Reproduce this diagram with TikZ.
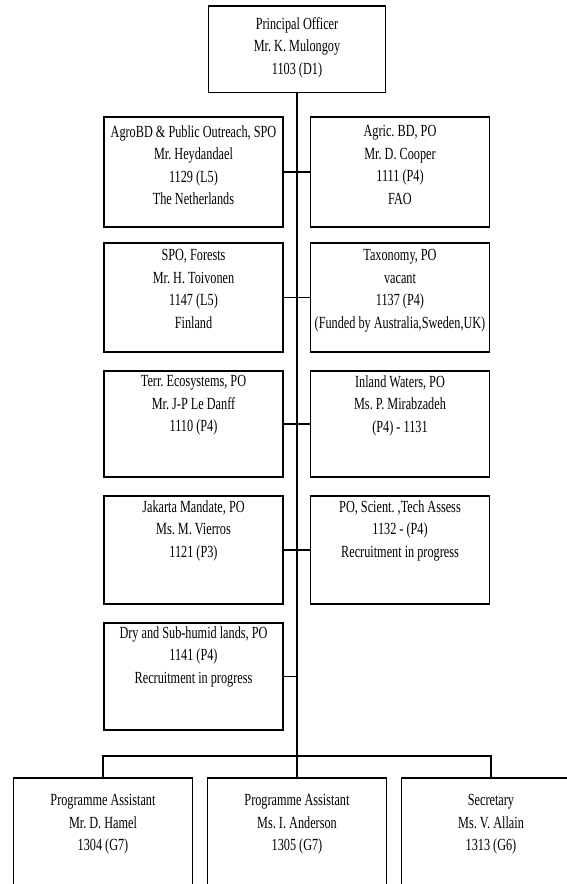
\documentclass[tikz,border=0pt]{standalone}
\usepackage{fontspec}
\usetikzlibrary{calc}
\newfontfamily\condserif[FakeStretch=0.72]{Liberation Serif}
\begin{document}
\begin{tikzpicture}[x=1pt,y=-1pt,
  box/.style={draw, line width=1.8pt, inner sep=0pt, minimum width=179pt},
  txt/.style={align=center, anchor=north, inner sep=0pt,
    font=\condserif\fontsize{17}{22.5}\selectfont\frenchspacing},
  trunk/.style={line width=1.6pt},
  conn/.style={line width=1.1pt}]
\useasboundingbox (0,0) rectangle (567,884);
\clip (0,0) rectangle (567,884);

% boxes
\node[box, minimum width=177pt, minimum height=86.5pt] (po) at (297,49.25) {};
\node[box, minimum height=110pt] (l1) at (193.5,172) {};
\node[box, minimum height=110pt] (r1) at (400,172) {};
\node[box, minimum height=109pt] (l2) at (193.5,297.5) {};
\node[box, minimum height=109pt] (r2) at (400,297.5) {};
\node[box, minimum height=106pt] (l3) at (193.5,424) {};
\node[box, minimum height=106pt] (r3) at (400,424) {};
\node[box, minimum height=108pt] (l4) at (193.5,550) {};
\node[box, minimum height=108pt] (r4) at (400,550) {};
\node[box, minimum height=107pt] (l5) at (193.5,676.5) {};
\node[box, minimum height=150pt] (b1) at (103,853) {};
\node[box, minimum height=150pt] (b2) at (297,853) {};
\node[box, minimum height=150pt] (b3) at (491,853) {};

% texts
\node[txt] (pot) at ($(po.north)+(0,12)$) {Principal Officer\\Mr. K. Mulongoy\\1103 (D1)};
\node[txt] (l1t) at ($(l1.north)+(0,9)$) {AgroBD \& Public Outreach, SPO\\Mr. Heydandael\\1129 (L5)\\The Netherlands};
\node[txt] (r1t) at ($(r1.north)+(0,9)$) {Agric. BD, PO\\Mr. D. Cooper\\1111 (P4)\\FAO};
\node[txt] (l2t) at ($(l2.north)+(0,7)$) {SPO, Forests\\Mr. H. Toivonen\\1147 (L5)\\Finland};
\node[txt] (r2t) at ($(r2.north)+(0,7)$) {Taxonomy, PO\\vacant\\1137 (P4)\\(Funded by Australia,Sweden,UK)};
\node[txt] (l3t) at ($(l3.north)+(0,5)$) {Terr. Ecosystems, PO\\Mr. J-P Le Danff\\1110 (P4)};
\node[txt] (r3t) at ($(r3.north)+(0,5)$) {Inland Waters, PO\\Ms. P. Mirabzadeh\\(P4) - 1131};
\node[txt] (l4t) at ($(l4.north)+(0,5)$) {Jakarta Mandate, PO\\Ms. M. Vierros\\1121 (P3)};
\node[txt] (r4t) at ($(r4.north)+(0,5)$) {PO, Scient. ,Tech Assess\\1132 - (P4)\\Recruitment in progress};
\node[txt] (l5t) at ($(l5.north)+(0,4)$) {Dry and Sub-humid lands, PO\\1141 (P4)\\Recruitment in progress};
\node[txt] (b1t) at ($(b1.north)+(0,17)$) {Programme Assistant\\Mr. D. Hamel\\1304 (G7)};
\node[txt] (b2t) at ($(b2.north)+(0,17)$) {Programme Assistant\\Ms. I. Anderson\\1305 (G7)};
\node[txt] (b3t) at ($(b3.north)+(0,17)$) {Secretary\\Ms. V. Allain\\1313 (G6)};

% connectors
\coordinate (busc) at (297,756);
\draw[trunk] (po.south) -- (po.south |- busc);
\draw[conn] (l1.east) -- (r1.west);
\draw[conn] (l2.east) -- (r2.west);
\draw[conn] (l3.east) -- (r3.west);
\draw[conn] (l4.east) -- (r4.west);
\draw[conn] (l5.east) -- (l5.east -| po.south);
\draw[conn] (b1.north) -- (b1.north |- busc) -- (b3.north |- busc) -- (b3.north);
\draw[conn] (b2.north) -- (b2.north |- busc);
\end{tikzpicture}
\end{document}
